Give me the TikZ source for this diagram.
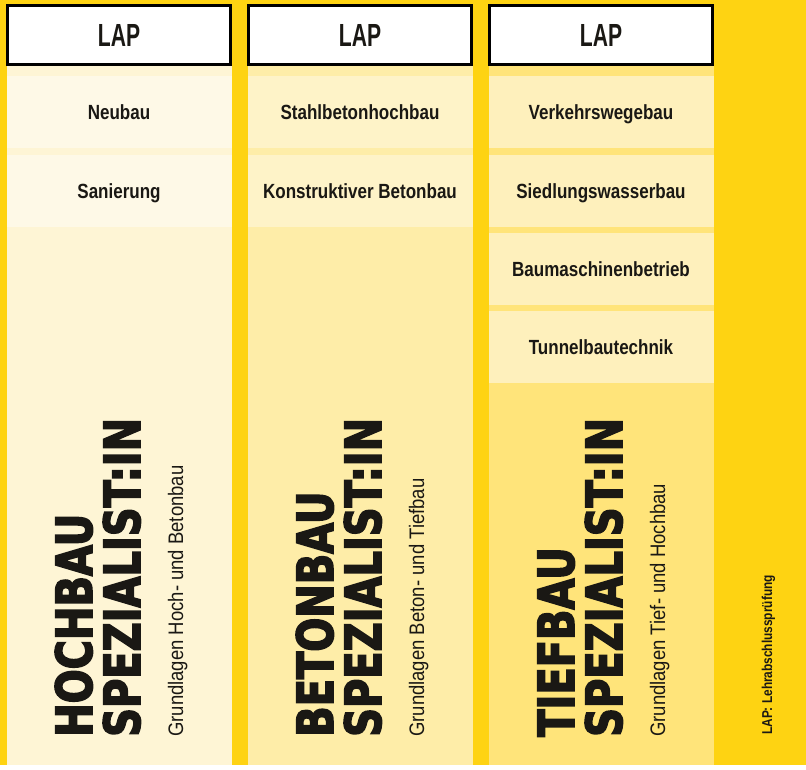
\documentclass[tikz,border=0pt]{standalone}
\usepackage{fontspec}
\setmainfont{Liberation Sans}
\newfontfamily\headfont{Liberation Sans}[FakeStretch=0.66]
\newfontfamily\itemfont{Liberation Sans}[FakeStretch=0.83]
\newfontfamily\subfont{Liberation Sans}[FakeStretch=0.88]
\newfontfamily\bigfont{DejaVu Sans}[UprightFont=* Bold,FakeStretch=0.80,FakeBold=3]
\usetikzlibrary{positioning,calc}

\definecolor{gold}{RGB}{254,211,18}
\definecolor{ink}{RGB}{26,24,20}
\definecolor{bgA}{RGB}{254,245,213}
\definecolor{itemA}{RGB}{254,249,231}
\definecolor{bgB}{RGB}{254,237,168}
\definecolor{itemB}{RGB}{254,243,200}
\definecolor{bgC}{RGB}{255,228,122}
\definecolor{itemC}{RGB}{254,240,188}

\begin{document}
\begin{tikzpicture}[x=1pt,y=1pt,node distance=10pt,
    lapbox/.style={draw=black,line width=3pt,fill=white,minimum width=222.5pt,
        minimum height=58.5pt,inner sep=0pt,text=ink,
        font=\headfont\bfseries\fontsize{32}{32}\selectfont},
    fach/.style={minimum width=225pt,minimum height=72pt,inner sep=0pt,
        text height=15pt,text depth=0pt,text=ink,
        font=\itemfont\bfseries\fontsize{20.5}{20.5}\selectfont},
    titel/.style={rotate=90,anchor=base west,inner sep=0pt,text=ink,
        font=\bigfont\fontsize{50}{50}\selectfont},
    grundl/.style={rotate=90,anchor=base west,inner sep=0pt,text=ink,
        font=\subfont\fontsize{21}{21}\selectfont},
    legende/.style={rotate=90,anchor=base west,inner sep=0pt,text=ink,
        font=\itemfont\bfseries\fontsize{14.3}{14.3}\selectfont}]

\useasboundingbox (0,0) rectangle (806,770);
\fill[gold] (0,0) rectangle (806,770);
\fill[white] (0,0) rectangle (806,5);

% Spalten
\fill[bgA] (6.5,5) rectangle (231.5,720);
\fill[bgB] (247.5,5) rectangle (472.5,720);
\fill[bgC] (488.5,5) rectangle (713.5,720);

\node[lapbox] (lapA) at (119,734.75) {LAP};
\node[lapbox] (lapB) at (360,734.75) {LAP};
\node[lapbox] (lapC) at (601,734.75) {LAP};

% Hochbau
\node[fach,fill=itemA,below=10pt of lapA] (neubau) {Neubau};
\node[fach,fill=itemA,below=6pt of neubau] (sanierung) {Sanierung};

% Betonbau
\node[fach,fill=itemB,below=10pt of lapB] (stahlbeton) {Stahlbetonhochbau};
\node[fach,fill=itemB,below=6pt of stahlbeton] (konstruktiv) {Konstruktiver Betonbau};

% Tiefbau
\node[fach,fill=itemC,below=10pt of lapC] (verkehr) {Verkehrswegebau};
\node[fach,fill=itemC,below=6pt of verkehr] (siedlung) {Siedlungswasserbau};
\node[fach,fill=itemC,below=6pt of siedlung] (baumaschinen) {Baumaschinenbetrieb};
\node[fach,fill=itemC,below=6pt of baumaschinen] (tunnel) {Tunnelbautechnik};

\node[titel] (hochA) at (92,33) {HOCHBAU};
\node[titel] (spezA) at (140,33) {SPEZIALIST:IN};
\node[grundl] (grundA) at (183,33) {Grundlagen Hoch- und Betonbau};

\node[titel] (betonB) at (333,33) {BETONBAU};
\node[titel] (spezB) at (381,33) {SPEZIALIST:IN};
\node[grundl] (grundB) at (424,33) {Grundlagen Beton- und Tiefbau};

\node[titel] (tiefC) at (574,33) {TIEFBAU};
\node[titel] (spezC) at (622,33) {SPEZIALIST:IN};
\node[grundl] (grundC) at (665,33) {Grundlagen Tief- und Hochbau};

\node[legende] (lap) at (772,35) {LAP: Lehrabschlussprüfung};
\end{tikzpicture}
\end{document}
